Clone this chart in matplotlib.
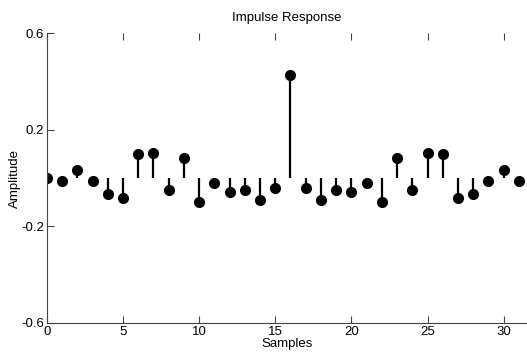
import numpy as np
import matplotlib.pyplot as plt

plt.rcParams["font.family"] = ["Liberation Sans", "DejaVu Sans"]

# impulse response values (linear phase, symmetric about n=16)
samples = np.arange(32)
amplitude = [0.0, -0.012, 0.032, -0.012, -0.068, -0.084, 0.098, 0.102,
             -0.051, 0.084, -0.098, -0.019, -0.057, -0.048, -0.092, -0.040,
             0.426, -0.040, -0.092, -0.048, -0.057, -0.019, -0.098, 0.084,
             -0.051, 0.102, 0.098, -0.084, -0.068, -0.012, 0.032, -0.012]

xticks = [0, 5, 10, 15, 20, 25, 30]
yticks = [-0.6, -0.2, 0.2, 0.6]
ytick_labels = ["-0.6", "-0.2", "0.2", "0.6"]

fig = plt.figure(figsize=(5.27, 3.6), dpi=100)
ax = fig.add_axes([0.089, 0.103, 0.91, 0.805])

markerline, stemlines, baseline = ax.stem(samples, amplitude, linefmt="k-",
                                          markerfmt="ko", basefmt=" ")
markerline.set_markersize(7)
stemlines.set_linewidth(1.6)

ax.set_xlim(0, 31.5)
ax.set_ylim(-0.6, 0.6)
ax.set_xticks(xticks)
ax.set_yticks(yticks)
ax.set_yticklabels(ytick_labels)

ax.spines["top"].set_visible(False)
ax.spines["right"].set_visible(False)
ax.spines["left"].set_color("#444444")
ax.spines["bottom"].set_color("#444444")
ax.tick_params(direction="in", top=True, length=5, width=0.8,
               labelsize=9.5, pad=2, color="#444444")

ax.set_title("Impulse Response", fontsize=9.5, pad=9)
ax.set_xlabel("Samples", fontsize=9.5, labelpad=0)
ax.set_ylabel("Amplitude", fontsize=9.5, labelpad=0)

fig.savefig("out.png", dpi=100)
